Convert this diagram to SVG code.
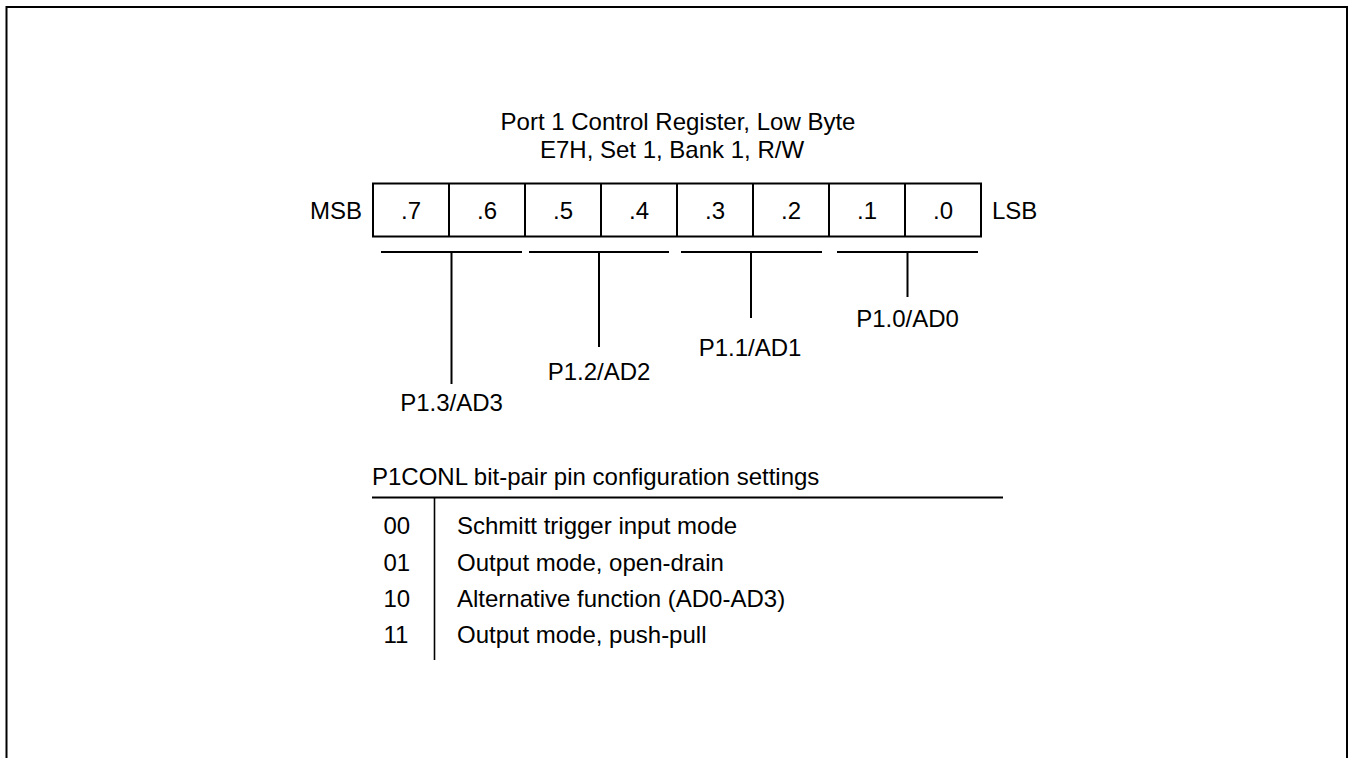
<svg xmlns="http://www.w3.org/2000/svg" width="1353" height="758" viewBox="0 0 1353 758">
<style>
text{font-family:"Liberation Sans",Arial,sans-serif;fill:#000}
.t{font-size:24px}
.c{text-anchor:middle}
.ln{stroke:#000;stroke-width:2;fill:none}
.thin{stroke:#000;stroke-width:1.6;fill:none}
</style>
<rect x="6.5" y="7" width="1340.5" height="780" fill="#fff" stroke="#000" stroke-width="2"/>
<g id="title">
<text class="t c" x="678" y="130">Port 1 Control Register, Low Byte</text>
<text class="t c" x="672" y="158">E7H, Set 1, Bank 1, R/W</text>
</g>
<g id="register">
<text class="t" x="362" y="219" text-anchor="end">MSB</text>
<rect class="ln" x="373" y="183.5" width="608" height="53"/>
<path class="ln" d="M449 183.5V236.5M525 183.5V236.5M601 183.5V236.5M677 183.5V236.5M753 183.5V236.5M829 183.5V236.5M905 183.5V236.5"/>
<text class="t c" x="411" y="219">.7</text>
<text class="t c" x="487" y="219">.6</text>
<text class="t c" x="563" y="219">.5</text>
<text class="t c" x="639" y="219">.4</text>
<text class="t c" x="715" y="219">.3</text>
<text class="t c" x="791" y="219">.2</text>
<text class="t c" x="867" y="219">.1</text>
<text class="t c" x="943" y="219">.0</text>
<text class="t" x="992" y="219">LSB</text>
</g>
<g id="connectors">
<path class="ln" d="M381 252H522M451.5 252V384"/>
<path class="ln" d="M529 252H669M599 252V347"/>
<path class="ln" d="M681 252H822M751 252V318"/>
<path class="ln" d="M837 252H978M907.5 252V297"/>
</g>
<g id="label-p13"><text class="t c" x="451.5" y="411">P1.3/AD3</text></g>
<g id="label-p12"><text class="t c" x="599" y="380">P1.2/AD2</text></g>
<g id="label-p11"><text class="t c" x="750" y="356">P1.1/AD1</text></g>
<g id="label-p10"><text class="t c" x="907.5" y="327">P1.0/AD0</text></g>
<g id="settings-table">
<text class="t" x="372" y="485">P1CONL bit-pair pin configuration settings</text>
<path class="ln" d="M372 497.5H1003"/>
<path class="thin" d="M434.5 498V660"/>
<text class="t" x="383.5" y="534">00</text>
<text class="t" x="457" y="534">Schmitt trigger input mode</text>
<text class="t" x="383.5" y="570.5">01</text>
<text class="t" x="457" y="570.5">Output mode, open-drain</text>
<text class="t" x="383.5" y="606.5">10</text>
<text class="t" x="457" y="606.5">Alternative function (AD0-AD3)</text>
<text class="t" x="383.5" y="643">11</text>
<text class="t" x="457" y="643">Output mode, push-pull</text>
</g>
</svg>
